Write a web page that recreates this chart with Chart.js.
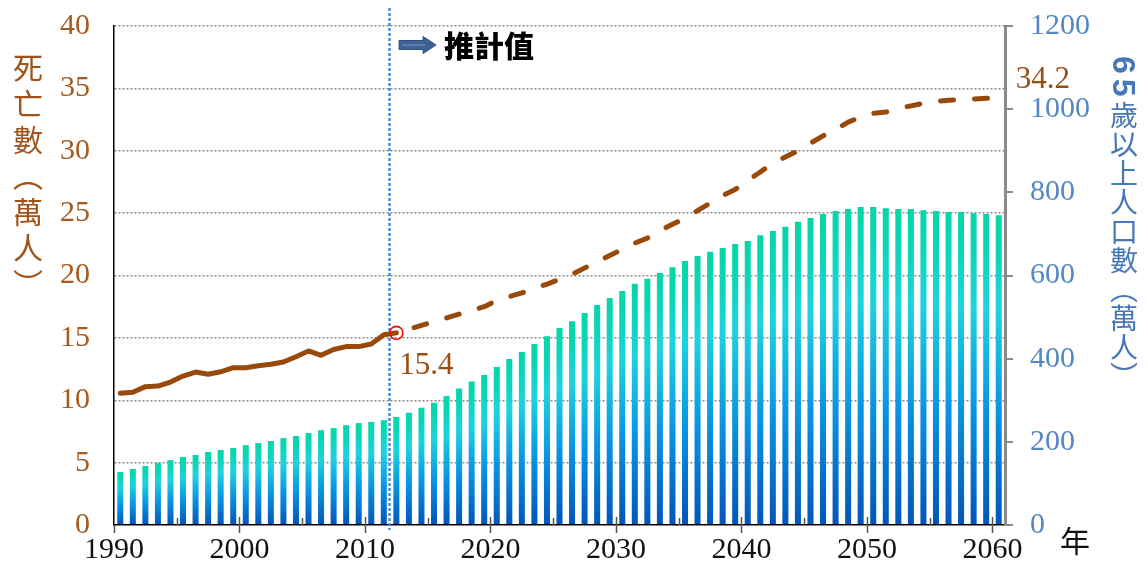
<!DOCTYPE html>
<html><head><meta charset="utf-8">
<script src="https://cdn.jsdelivr.net/npm/chart.js@4.4.1/dist/chart.umd.min.js"></script>
<style>
html,body{margin:0;padding:0;background:#fff;}
#wrap{position:relative;width:1148px;height:566px;overflow:hidden;background:#fff;}
canvas{position:absolute;left:0;top:0;}
.vt{position:absolute;writing-mode:vertical-rl;font-family:"Noto Sans CJK TC","Noto Sans CJK SC",sans-serif;white-space:nowrap;line-height:1;}
#lt{left:13px;top:53px;font-size:30px;color:#A0521A;letter-spacing:6px;}
#rt{left:1108px;top:56px;font-size:28px;color:#4677B8;letter-spacing:1px;}
#rt b{font-family:"Liberation Sans","DejaVu Sans",sans-serif;font-weight:700;font-size:32px;letter-spacing:5px;}
</style></head><body>
<div id="wrap">
<canvas id="c" width="1148" height="566"></canvas>
<div class="vt" id="lt">死亡數（萬人）</div>
<div class="vt" id="rt"><b>65</b>歲以上人口數（萬人）</div>
</div>
<script>
// ---- data ----
const years = [1990,1991,1992,1993,1994,1995,1996,1997,1998,1999,
  2000,2001,2002,2003,2004,2005,2006,2007,2008,2009,
  2010,2011,2012,2013,2014,2015,2016,2017,2018,2019,
  2020,2021,2022,2023,2024,2025,2026,2027,2028,2029,
  2030,2031,2032,2033,2034,2035,2036,2037,2038,2039,
  2040,2041,2042,2043,2044,2045,2046,2047,2048,2049,
  2050,2051,2052,2053,2054,2055,2056,2057,2058,2059,2060];
// 65+ population (10k persons), right axis
const elderlyPop = [127.5,134.7,142,149,156,163.5,168.3,175.5,180.4,185,
  192,197,202,209,214,221,228,233,240,245,
  248,252,260,270,282,294,310,328,345,361,
  380,399,416,435,454,474,490,510,529,546,
  563,580,592,606,620,635,647,657,666,676,
  683,697,707,717,729,738,748,755,760,765,
  765,762,760,760,757,755,753,753,750,748,745];
// deaths (10k persons), left axis
const actualYears = [1990,1991,1992,1993,1994,1995,1996,1997,1998,1999,2000,2001,2002,2003,2004,2005,2006,2007,2008,2009,2010,2011,2012];
const deathsActual = [10.56,10.64,11.09,11.14,11.46,11.94,12.26,12.08,12.28,12.61,12.61,12.77,12.88,13.07,13.49,13.95,13.6,14.07,14.3,14.3,14.51,15.25,15.4];
const projYears = [2012,2013,2014,2015,2016,2017,2018,2019,2020,2021,2022,2023,2024,2025,2026,2027,2028,2029,
  2030,2031,2032,2033,2034,2035,2036,2037,2038,2039,2040,2041,2042,2043,2044,2045,
  2046,2047,2048,2049,2050,2051,2052,2053,2054,2055,2056,2057,2058,2059,2060];
const deathsProjected = [15.4,15.7,16.0,16.3,16.6,16.9,17.2,17.5,18.0,18.3,18.6,19.0,19.3,19.7,20.1,20.6,21.1,21.6,
  22.1,22.6,23.0,23.6,24.1,24.6,25.2,25.8,26.4,26.9,27.6,28.3,29.0,29.5,30.0,30.6,
  31.2,31.7,32.3,32.7,33.0,33.1,33.4,33.6,33.8,33.95,34.05,34.1,34.15,34.2,34.2];
const leftTicks = [0,5,10,15,20,25,30,35,40];
const rightTicks = [0,200,400,600,800,1000,1200];
const xTickYears = [1990,2000,2010,2020,2030,2040,2050,2060];
const xMinorYears = [1995,2005,2015,2025,2035,2045,2055];
const projectionStartYear = 2012;
const projectionLabel = '推計值';
const yearUnit = '年';

// each year's mark sits in the middle of its one-year slot
const SLOT_CENTER = 0.5;
const toPts = (xs, vs) => vs.map((v, i) => ({x: xs[i] + SLOT_CENTER, y: v}));

const SERIF = '"Liberation Serif","Times New Roman",serif';
const CJK = '"Noto Sans CJK TC","Noto Sans CJK SC",sans-serif';
const BROWN_TICK = '#A55A1E';
const BROWN_LINE = '#984A0C';

function barGradient(c) {
  const chart = c.chart;
  const y2 = chart.scales && chart.scales.y2;
  if (!chart.chartArea || !y2 || c.type !== 'data') return '#1cc8dc';
  const top = y2.getPixelForValue(c.raw.y), bottom = y2.getPixelForValue(0);
  if (!isFinite(top) || !isFinite(bottom) || top === bottom) return '#1cc8dc';
  const g = chart.ctx.createLinearGradient(0, top, 0, bottom);
  g.addColorStop(0, '#05D6A6');
  g.addColorStop(0.12, '#0AD6B6');
  g.addColorStop(0.3, '#1ED3DF');
  g.addColorStop(0.62, '#0A96E4');
  g.addColorStop(1, '#0056BA');
  return g;
}

const noOverflow = s => { s.paddingTop = 0; s.paddingBottom = 0; };

const annot = {
  id: 'annot',
  beforeDatasetsDraw(chart) {
    const {ctx, scales: {x}, chartArea} = chart;
    const xv = Math.round(x.getPixelForValue(projectionStartYear)) - 0.5;
    ctx.save();
    ctx.strokeStyle = '#4A89DF';
    ctx.lineWidth = 2.5;
    ctx.setLineDash([3, 2]);
    ctx.beginPath();
    ctx.moveTo(xv, 8);
    ctx.lineTo(xv, chartArea.bottom + 5);
    ctx.stroke();
    ctx.restore();
  },
  afterDraw(chart) {
    const {ctx, scales: {x}, chartArea} = chart;
    const b = chartArea.bottom;
    ctx.save();
    // x tick marks
    ctx.strokeStyle = '#555';
    ctx.lineWidth = 1.5;
    xTickYears.forEach(v => {
      const px = Math.round(x.getPixelForValue(v)) + 0.5;
      ctx.beginPath(); ctx.moveTo(px, v === xTickYears[0] ? b : b - 8); ctx.lineTo(px, b + 8); ctx.stroke();
    });
    xMinorYears.forEach(v => {
      const px = Math.round(x.getPixelForValue(v)) + 0.5;
      ctx.beginPath(); ctx.moveTo(px, b - 7); ctx.lineTo(px, b); ctx.stroke();
    });
    // arrow + projection label
    const xv = x.getPixelForValue(projectionStartYear);
    const ax = xv + 9, ay = 45;
    ctx.fillStyle = '#3C6193';
    ctx.strokeStyle = '#2E507E';
    ctx.lineWidth = 1;
    ctx.beginPath();
    ctx.moveTo(ax, ay - 4.5); ctx.lineTo(ax + 24, ay - 4.5); ctx.lineTo(ax + 24, ay - 8.5);
    ctx.lineTo(ax + 37, ay); ctx.lineTo(ax + 24, ay + 8.5); ctx.lineTo(ax + 24, ay + 4.5);
    ctx.lineTo(ax, ay + 4.5); ctx.closePath();
    ctx.fill(); ctx.stroke();
    ctx.strokeStyle = '#7C9BC8';
    ctx.beginPath(); ctx.moveTo(ax + 3, ay); ctx.lineTo(ax + 26, ay); ctx.stroke();
    ctx.fillStyle = '#000';
    ctx.font = '900 30px ' + CJK;
    ctx.textAlign = 'left';
    ctx.textBaseline = 'middle';
    ctx.fillText(projectionLabel, xv + 54, 46);
    // value labels
    const actMeta = chart.getDatasetMeta(1);
    const pA = actMeta.data[actMeta.data.length - 1];
    const projMeta = chart.getDatasetMeta(2);
    const pP = projMeta.data[projMeta.data.length - 1];
    ctx.fillStyle = '#9A4E14';
    ctx.font = '31px ' + SERIF;
    ctx.textBaseline = 'alphabetic';
    ctx.fillText(deathsActual[deathsActual.length - 1].toFixed(1), pA.x + 3, pA.y + 41);
    ctx.fillText(deathsProjected[deathsProjected.length - 1].toFixed(1), pP.x + 17, pP.y - 10);
    // year unit
    ctx.fillStyle = '#111';
    ctx.font = '30px ' + CJK;
    ctx.textAlign = 'center';
    ctx.textBaseline = 'middle';
    ctx.fillText(yearUnit, 1075, 541);
    ctx.restore();
  }
};

new Chart(document.getElementById('c'), {
  type: 'bar',
  data: {
    datasets: [
      {
        type: 'bar', label: '65歲以上人口數', yAxisID: 'y2', order: 2,
        data: toPts(years, elderlyPop),
        backgroundColor: barGradient,
        barPercentage: 0.48, categoryPercentage: 1, borderWidth: 0
      },
      {
        type: 'line', label: '死亡數', yAxisID: 'y', order: 1,
        data: toPts(actualYears, deathsActual),
        borderColor: BROWN_LINE, borderWidth: 5,
        borderCapStyle: 'round', borderJoinStyle: 'round',
        tension: 0, fill: false,
        pointRadius: c => c.dataIndex === deathsActual.length - 1 ? 6.5 : 0,
        pointBorderColor: '#FF0000', pointBackgroundColor: 'rgba(0,0,0,0)', pointBorderWidth: 1.6
      },
      {
        type: 'line', label: '死亡數推計', yAxisID: 'y', order: 1,
        data: toPts(projYears, deathsProjected),
        borderColor: BROWN_LINE, borderWidth: 5,
        borderCapStyle: 'round', borderJoinStyle: 'round',
        borderDash: [13, 21], borderDashOffset: 15.5,
        tension: 0, fill: false, pointRadius: 0
      }
    ]
  },
  options: {
    responsive: false, animation: false, devicePixelRatio: 1,
    layout: {padding: {top: 26, left: 0, right: 0, bottom: 0}, autoPadding: false},
    plugins: {legend: {display: false}, tooltip: {enabled: false}},
    scales: {
      x: {
        type: 'linear', min: xTickYears[0], max: xTickYears[xTickYears.length - 1] + 1, offset: false,
        afterBuildTicks: s => { s.ticks = xTickYears.map(v => ({value: v})); },
        afterFit: s => { s.height = 41; s.paddingLeft = 0; s.paddingRight = 0; },
        grid: {display: false, drawTicks: false},
        border: {color: '#000', width: 1.5},
        ticks: {color: '#111', font: {family: SERIF, size: 30}, padding: 7, maxRotation: 0, autoSkip: false,
          callback: v => String(v)}
      },
      y: {
        position: 'left', min: 0, max: 40,
        afterBuildTicks: s => { s.ticks = leftTicks.map(v => ({value: v})); },
        afterFit: s => { s.width = 114; noOverflow(s); },
        grid: {color: c => c.tick && c.tick.value === 0 ? 'rgba(0,0,0,0)' : '#8a8a8a', lineWidth: 1.5, drawTicks: false},
        border: {color: '#000', width: 1.5, dash: [2, 2]},
        ticks: {color: BROWN_TICK, font: {family: SERIF, size: 30}, padding: 24, callback: v => String(v)}
      },
      y2: {
        position: 'right', min: 0, max: 1200,
        afterBuildTicks: s => { s.ticks = rightTicks.map(v => ({value: v})); },
        afterFit: s => { s.width = 143; noOverflow(s); },
        grid: {drawOnChartArea: false, drawTicks: true, tickLength: 8, color: '#8a8a8a', lineWidth: 2},
        border: {color: '#8a8a8a', width: 3},
        ticks: {color: '#5587C4', font: {family: SERIF, size: 30}, padding: 17, callback: v => String(v)}
      }
    }
  },
  plugins: [annot]
});
</script>
</body></html>
